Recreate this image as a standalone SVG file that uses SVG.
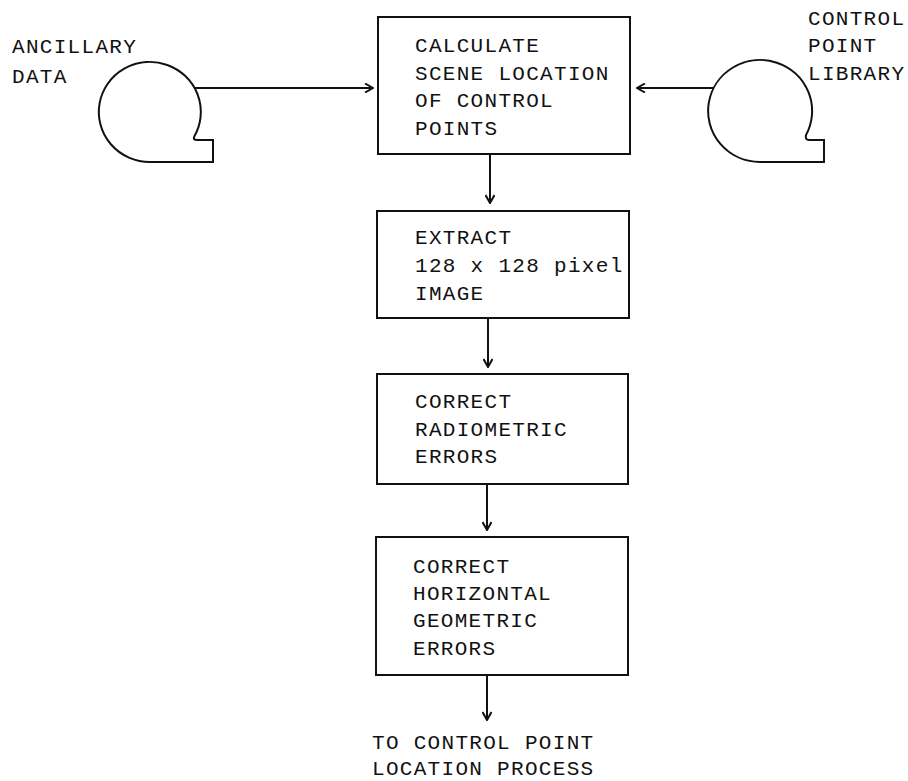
<svg xmlns="http://www.w3.org/2000/svg" width="908" height="781" viewBox="0 0 908 781">
<defs>
<style>
.box{fill:#fff;stroke:#111;stroke-width:2}
.reel{fill:none;stroke:#111;stroke-width:2;stroke-linejoin:miter}
.line{fill:none;stroke:#111;stroke-width:2}
text{font-family:"Liberation Mono","DejaVu Sans Mono",monospace;font-size:21px;letter-spacing:1.3px;fill:#111}
</style>
<marker id="ah" markerUnits="userSpaceOnUse" viewBox="0 0 10 10" refX="9" refY="5" markerWidth="10" markerHeight="10" orient="auto">
<path d="M1,0.5 L9,5 L1,9.5" fill="none" stroke="#111" stroke-width="2"/>
</marker>
</defs>
<rect width="908" height="781" fill="#fff"/>

<g id="ancillary-data">
<path class="reel" d="M194,137 Q193,140 197,140 L213,140 L213,162 L150,162 A51,50 0 1,1 194,137"/>
<text x="12" y="53">ANCILLARY</text>
<text x="12" y="83">DATA</text>
</g>

<g id="control-point-library">
<path class="reel" d="M806,135 Q805,140 809,140 L824,140 L824,162 L760,162 A52,51 0 1,1 806,135"/>
<text x="808" y="25">CONTROL</text>
<text x="808" y="52">POINT</text>
<text x="808" y="80">LIBRARY</text>
</g>

<g id="calculate">
<rect class="box" x="378" y="17" width="252" height="137"/>
<text x="415" y="52">CALCULATE</text>
<text x="415" y="80">SCENE LOCATION</text>
<text x="415" y="107">OF CONTROL</text>
<text x="415" y="135">POINTS</text>
</g>

<g id="extract">
<rect class="box" x="377" y="211" width="252" height="107"/>
<text x="415" y="244">EXTRACT</text>
<text x="415" y="272">128 x 128 pixel</text>
<text x="415" y="300">IMAGE</text>
</g>

<g id="radiometric">
<rect class="box" x="377" y="374" width="251" height="110"/>
<text x="415" y="408">CORRECT</text>
<text x="415" y="436">RADIOMETRIC</text>
<text x="415" y="463">ERRORS</text>
</g>

<g id="geometric">
<rect class="box" x="376" y="537" width="252" height="138"/>
<text x="413" y="573">CORRECT</text>
<text x="413" y="600">HORIZONTAL</text>
<text x="413" y="627">GEOMETRIC</text>
<text x="413" y="655">ERRORS</text>
</g>

<g id="output">
<text x="372" y="749">TO CONTROL POINT</text>
<text x="372" y="775">LOCATION PROCESS</text>
</g>

<g id="connectors">
<line class="line" x1="195" y1="88" x2="373" y2="88" marker-end="url(#ah)"/>
<line class="line" x1="714" y1="88" x2="637" y2="88" marker-end="url(#ah)"/>
<line class="line" x1="490" y1="154" x2="490" y2="203" marker-end="url(#ah)"/>
<line class="line" x1="488" y1="318" x2="488" y2="367" marker-end="url(#ah)"/>
<line class="line" x1="487" y1="484" x2="487" y2="530" marker-end="url(#ah)"/>
<line class="line" x1="487" y1="675" x2="487" y2="720" marker-end="url(#ah)"/>
</g>
</svg>
